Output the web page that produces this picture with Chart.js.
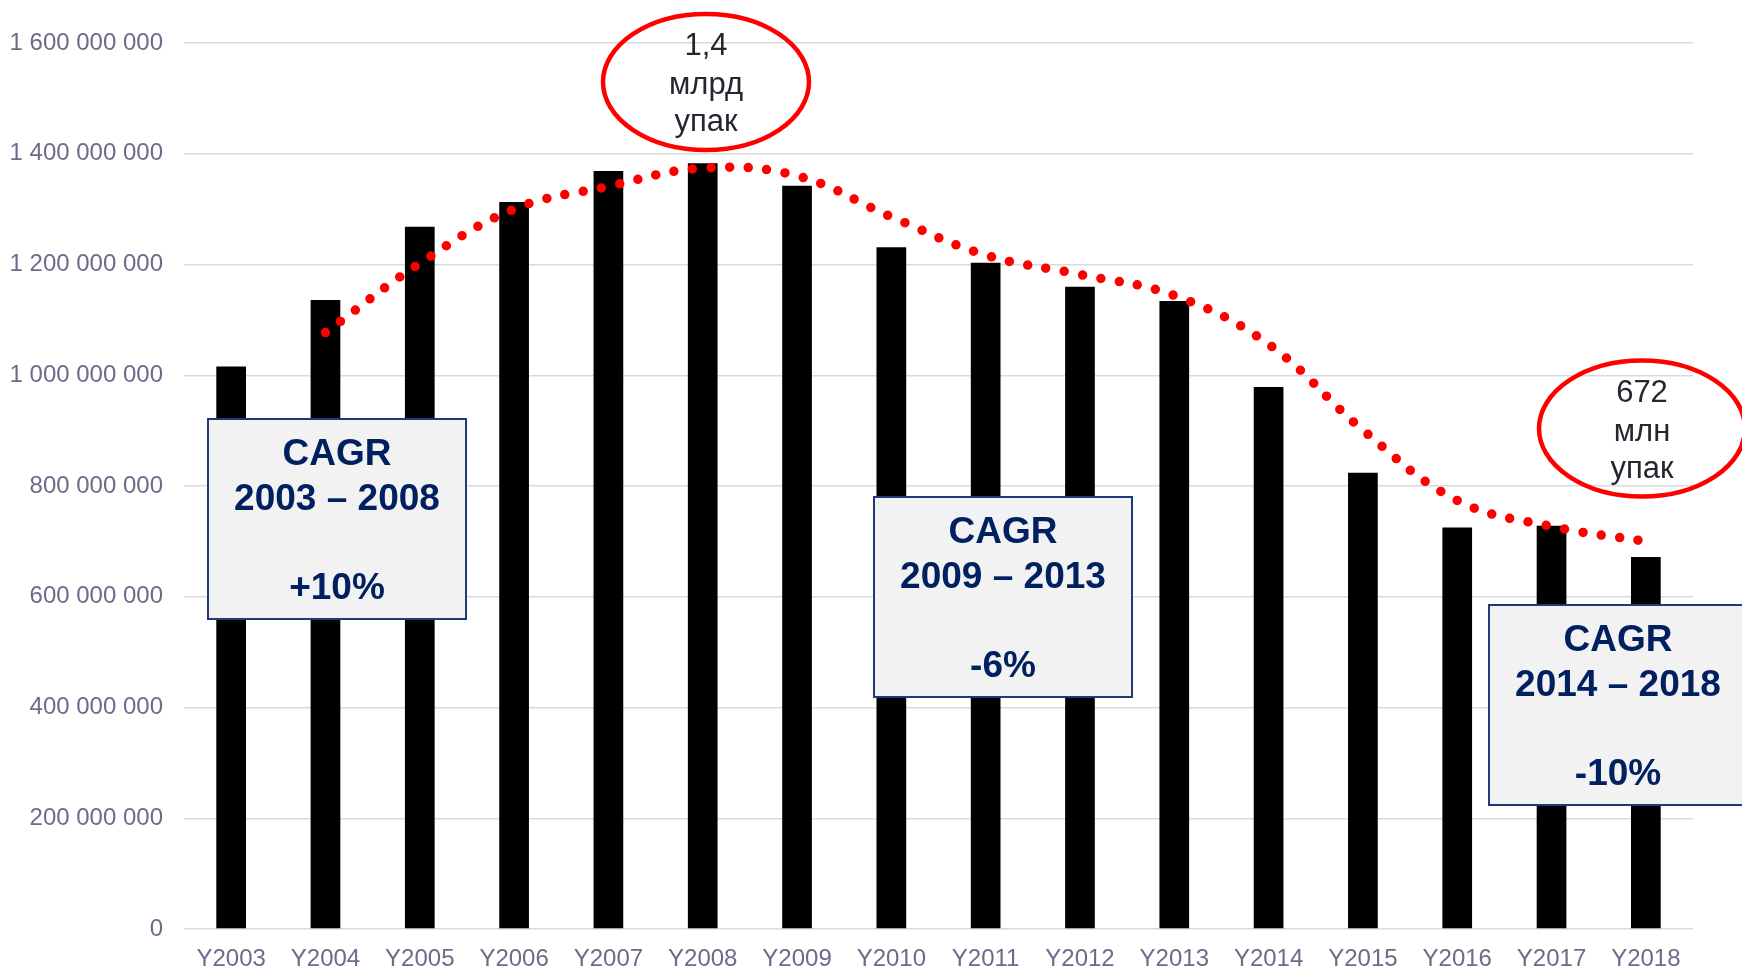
<!DOCTYPE html>
<html>
<head>
<meta charset="utf-8">
<script src="https://cdn.jsdelivr.net/npm/chart.js@4.4.0/dist/chart.umd.min.js"></script>
<style>
  html, body { margin: 0; padding: 0; background: #fff; overflow: hidden; }
  #wrap { width: 1742px; height: 969px; }
</style>
</head>
<body>
<div id="wrap"><canvas id="packChart" width="1742" height="969"></canvas></div>
<script>
// values (packs per year)
const years = ['Y2003', 'Y2004', 'Y2005', 'Y2006', 'Y2007', 'Y2008', 'Y2009', 'Y2010',
  'Y2011', 'Y2012', 'Y2013', 'Y2014', 'Y2015', 'Y2016', 'Y2017', 'Y2018'];
const packs = [1016e6, 1136e6, 1268e6, 1313e6, 1369e6, 1383e6, 1342e6, 1231e6,
  1203e6, 1160e6, 1134e6, 979e6, 824e6, 725e6, 728e6, 672e6];
const trend = [null, 1077e6, 1202e6, 1300e6, 1341e6, 1374e6, 1360e6, 1286e6,
  1217e6, 1182e6, 1144e6, 1056e6, 901e6, 774e6, 727e6, 700e6];
const yTicks = [0, 200e6, 400e6, 600e6, 800e6, 1000e6, 1200e6, 1400e6, 1600e6];

// annotation texts
const cagrLabels = [
  ['CAGR', '2003 – 2008', '+10%'],
  ['CAGR', '2009 – 2013', '-6%'],
  ['CAGR', '2014 – 2018', '-10%']
];
const calloutLabels = [
  ['1,4', 'млрд', 'упак'],
  ['672', 'млн', 'упак']
];

const fmt = v => String(v).replace(/\B(?=(\d{3})+(?!\d))/g, ' ');

// boxes and ellipses drawn on top of the chart
const annotations = {
  id: 'annotations',
  afterDatasetsDraw(chart) {
    const ctx = chart.ctx;
    ctx.save();

    // red ellipses
    const ellipses = [{ x: 706, y: 82 }, { x: 1642, y: 428.5 }];
    ellipses.forEach((e, i) => {
      ctx.beginPath();
      ctx.ellipse(e.x, e.y, 103, 68, 0, 0, Math.PI * 2);
      ctx.lineWidth = 4.5;
      ctx.strokeStyle = '#ff0000';
      ctx.stroke();
      ctx.fillStyle = '#262630';
      ctx.font = '31px "Liberation Sans", Arial, sans-serif';
      ctx.textAlign = 'center';
      ctx.textBaseline = 'alphabetic';
      const offs = [-27, 12, 49];
      calloutLabels[i].forEach((t, j) => ctx.fillText(t, e.x, e.y + offs[j]));
    });

    // CAGR boxes
    const boxes = [{ x: 208, y: 419 }, { x: 874, y: 497 }, { x: 1489, y: 605 }];
    boxes.forEach((b, i) => {
      ctx.fillStyle = '#f2f2f2';
      ctx.fillRect(b.x, b.y, 258, 200);
      ctx.lineWidth = 2;
      ctx.strokeStyle = '#1f3a78';
      ctx.strokeRect(b.x, b.y, 258, 200);
      ctx.fillStyle = '#002060';
      ctx.font = 'bold 37px "Liberation Sans", Arial, sans-serif';
      ctx.textAlign = 'center';
      ctx.textBaseline = 'alphabetic';
      const offs = [46, 91, 180];
      cagrLabels[i].forEach((t, j) => ctx.fillText(t, b.x + 129, b.y + offs[j]));
    });

    ctx.restore();
  }
};

Chart.defaults.font.family = '"Liberation Sans", Arial, sans-serif';

new Chart(document.getElementById('packChart'), {
  data: {
    labels: years,
    datasets: [
      {
        type: 'line',
        label: 'Тренд',
        data: trend,
        borderColor: '#ff0000',
        borderWidth: 9.5,
        borderDash: [0, 18.6],
        borderCapStyle: 'round',
        pointRadius: 0,
        tension: 0.4,
        fill: false,
        order: 0
      },
      {
        type: 'bar',
        label: 'Упаковки',
        data: packs,
        backgroundColor: '#000000',
        barPercentage: 0.315,
        categoryPercentage: 1,
        order: 1
      }
    ]
  },
  options: {
    responsive: false,
    animation: false,
    devicePixelRatio: 1,
    layout: { padding: { top: 43, right: 49, bottom: 0, left: 0 } },
    plugins: {
      legend: { display: false },
      tooltip: { enabled: false }
    },
    scales: {
      x: {
        grid: { display: false },
        border: { display: false },
        ticks: {
          color: '#6c6c8a',
          font: { size: 24 },
          padding: 8,
          maxRotation: 0,
          autoSkip: false
        },
        afterFit(scale) { scale.height = 40; }
      },
      y: {
        min: 0,
        max: 1600e6,
        afterBuildTicks(scale) { scale.ticks = yTicks.map(v => ({ value: v })); },
        grid: { color: '#d9d9e0', lineWidth: 1.5, drawTicks: false },
        border: { display: false },
        ticks: {
          color: '#6c6c8a',
          font: { size: 24 },
          padding: 21,
          callback: v => fmt(v)
        },
        afterFit(scale) { scale.width = 184; }
      }
    }
  },
  plugins: [annotations]
});
</script>
</body>
</html>
